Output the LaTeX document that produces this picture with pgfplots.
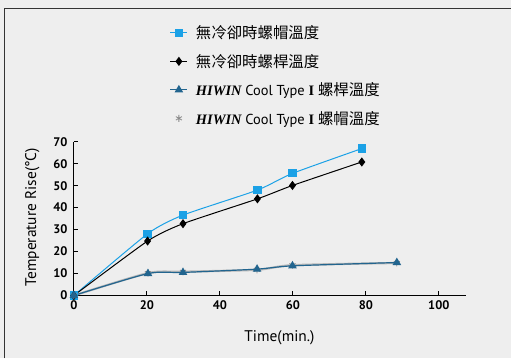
\documentclass[border=0pt]{standalone}
\usepackage{fontspec}
\setmainfont{PT Sans}
\newfontfamily\cjk{Noto Sans CJK TC}
\newfontfamily\serifb{Liberation Serif}
\usepackage{pgfplots}
\pgfplotsset{compat=1.18}
\definecolor{bg}{HTML}{EEEEEE}
\definecolor{sqblue}{HTML}{1BA1E6}
\definecolor{tridark}{HTML}{22658F}
\definecolor{stargray}{HTML}{8A8A8A}
\definecolor{shadow}{HTML}{B8B8B8}
\begin{document}
\begin{tikzpicture}
\fill[bg] (0,0) rectangle (512bp,-359bp);
\draw[line width=1.8bp, color=black!80] (4.5bp,-359bp) -- (4.5bp,-8.5bp) -- (512bp,-8.5bp);
\useasboundingbox (0,0) rectangle (512bp,-359bp);
\begin{axis}[
  at={(74bp,-296bp)}, anchor=south west,
  scale only axis, width=393bp, height=154bp,
  xmin=0, xmax=107.5, ymin=0, ymax=70,
  axis lines=left, axis line style={-, line width=1bp},
  xtick={0,20,...,100}, ytick={0,10,...,70},
  tick align=inside, major tick length=4bp,
  tick style={black, line width=0.8bp},
  /pgf/number format/assume math mode=true,
  ticklabel style={font=\bfseries\fontsize{12.5}{13}\selectfont},
  xticklabel style={yshift=-2bp},
  yticklabel style={xshift=-3bp},
  clip=false,
  xlabel={Time(min.)},
  ylabel={Temperature Rise(°C)},
  label style={font=\fontsize{15.5}{16}\selectfont},
  xlabel style={at={(axis description cs:0.524,-0.277)}, anchor=center},
  ylabel style={at={(axis description cs:-0.106,0.51)}, anchor=center, rotate=0},
  legend style={at={(axis description cs:0.244,1.77)}, anchor=north west,
    draw=none, fill=none, font=\fontsize{14.5}{15}\selectfont,
    row sep=10bp, inner sep=0pt},
  legend cell align=left,
]
\addplot[sqblue, line width=1bp, smooth, tension=0.35, mark=square*, mark size=3.6bp, mark options={solid, fill=sqblue}]
  coordinates {(0,0) (20.2,28.1) (29.9,36.6) (50.3,48) (59.9,55.6) (78.9,66.9)};
\addlegendentry{\hspace*{6bp}{\cjk\fontsize{15.5}{16}\selectfont 無冷卻時螺帽溫度}}
\addplot[black, line width=1bp, smooth, tension=0.35, mark=diamond*, mark size=3.8bp, mark options={solid, fill=black}]
  coordinates {(0,0) (20.2,24.8) (29.9,32.7) (50.3,44) (59.9,50.1) (78.9,60.8)};
\addlegendentry{\hspace*{6bp}{\cjk\fontsize{15.5}{16}\selectfont 無冷卻時螺桿溫度}}
\addplot[shadow, line width=2.2bp, smooth, tension=0.4, mark=asterisk, mark size=3.5bp, mark options={stargray, line width=0.8bp}, forget plot]
  coordinates {(0,0) (20.3,10.2) (29.9,10.8) (50.2,11.7) (59.9,13.8) (88.5,14.8)};
\addplot[tridark, line width=1.2bp, smooth, tension=0.4, mark=triangle*, mark size=3.8bp, mark options={solid, fill=tridark}]
  coordinates {(0,0) (20.3,10) (29.9,10.5) (50.2,12) (59.9,13.5) (88.5,15)};
\addlegendentry{\hspace*{6bp}{\serifb\bfseries\itshape HIWIN} Cool Type {\serifb\bfseries I} {\cjk\fontsize{15.5}{16}\selectfont 螺桿溫度}}
\addlegendimage{only marks, mark=asterisk, mark size=3.5bp, mark options={stargray, line width=0.8bp}}
\addlegendentry{\hspace*{6bp}{\serifb\bfseries\itshape HIWIN} Cool Type {\serifb\bfseries I} {\cjk\fontsize{15.5}{16}\selectfont 螺帽溫度}}
\end{axis}
\end{tikzpicture}
\end{document}
